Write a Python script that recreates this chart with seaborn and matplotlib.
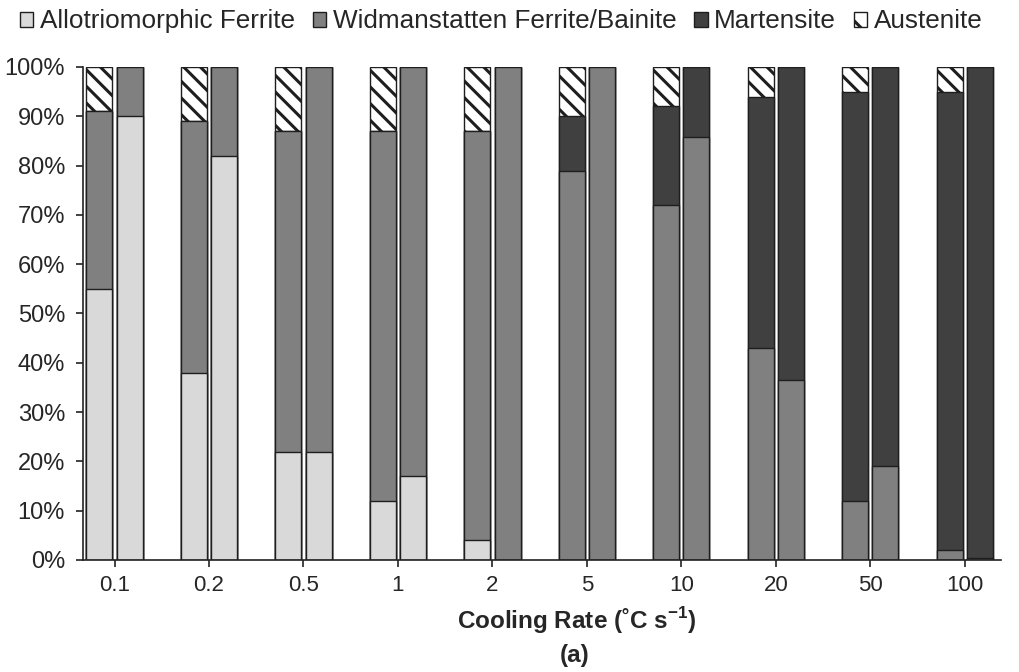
import numpy as np
import pandas as pd
import matplotlib
matplotlib.use("Agg")
import matplotlib.pyplot as plt
import seaborn as sns
from matplotlib.patches import Patch

# ---------------- data ----------------
rates = ["0.1", "0.2", "0.5", "1", "2", "5", "10", "20", "50", "100"]
bars = ["Measured", "Predicted"]
phases = ["Allotriomorphic Ferrite", "Widmanstatten Ferrite/Bainite", "Martensite", "Austenite"]

# left bar of each pair
af_left = [55, 38, 22, 12, 4, 0, 0, 0, 0, 0]
wf_left = [36, 51, 65, 75, 83, 79, 72, 43, 12, 2]
m_left = [0, 0, 0, 0, 0, 11, 20, 51, 83, 93]
a_left = [9, 11, 13, 13, 13, 10, 8, 6, 5, 5]

# right bar of each pair
af_right = [90, 82, 22, 17, 0, 0, 0, 0, 0, 0]
wf_right = [10, 18, 78, 83, 100, 100, 85.7, 36.5, 19, 0.5]
m_right = [0, 0, 0, 0, 0, 0, 14.3, 63.5, 81, 99.5]
a_right = [0, 0, 0, 0, 0, 0, 0, 0, 0, 0]

colors = ["#d9d9d9", "#808080", "#404040", "#ffffff"]
y_ticks = [0, 10, 20, 30, 40, 50, 60, 70, 80, 90, 100]

# ---------------- style ----------------
sns.set_theme(style="white")
plt.rcParams["font.family"] = ["Liberation Sans", "DejaVu Sans"]
plt.rcParams["mathtext.fontset"] = "custom"
plt.rcParams["mathtext.rm"] = "Liberation Sans"
plt.rcParams["mathtext.bf"] = "Liberation Sans:bold"
plt.rcParams["hatch.linewidth"] = 2.2

# ---------------- long table with cumulative tops ----------------
rows = []
left_vals = [af_left, wf_left, m_left, a_left]
right_vals = [af_right, wf_right, m_right, a_right]
for i, r in enumerate(rates):
    for b, vals in zip(bars, [left_vals, right_vals]):
        cum = 0.0
        for p, v in zip(phases, vals):
            cum += v[i]
            rows.append({"rate": r, "bar": b, "phase": p, "value": v[i], "cum": cum})
df = pd.DataFrame(rows)

fig = plt.figure(figsize=(10.19, 6.72), dpi=100)
ax = fig.add_axes([0.0815, 0.1667, 0.9005, 0.7336])

edge = "#1e1e1e"
for p, c in reversed(list(zip(phases, colors))):
    sub = df[df["phase"] == p]
    kw = {}
    if p == "Austenite":
        kw["hatch"] = "\\\\"
    sns.barplot(data=sub, x="rate", y="cum", hue="bar", order=rates, hue_order=bars,
                palette=[c, c], width=0.64, gap=0.14, edgecolor=edge, linewidth=1.0,
                legend=False, ax=ax, saturation=1, errorbar=None, **kw)

ax.set_xlim(-0.333, 9.38)
ax.set_ylim(0, 100)
ax.set_yticks(y_ticks)
ax.set_yticklabels([f"{t}%" for t in y_ticks])
ax.set_xlabel("")
ax.set_ylabel("")
for s in ["top", "right"]:
    ax.spines[s].set_visible(False)
for s in ["left", "bottom"]:
    ax.spines[s].set_color("#222222")
    ax.spines[s].set_linewidth(1.2)
ax.tick_params(axis="y", direction="out", length=5, width=1.2, color="#222222",
               labelsize=17, pad=8, left=True)
ax.tick_params(axis="x", direction="out", length=5, width=1.2, color="#222222",
               labelsize=16, pad=6, bottom=True)

handles = [Patch(facecolor=c, edgecolor=edge, linewidth=1.0,
                 hatch=("\\" if p == "Austenite" else None), label=p)
           for p, c in zip(phases, colors)]
fig.legend(handles=handles, loc="upper center", bbox_to_anchor=(0.492, 1.021), ncol=4,
           frameon=False, fontsize=18.8, handlelength=0.5, handleheight=0.5,
           handletextpad=0.25, columnspacing=0.7)

fig.text(0.566, 0.077, r"Cooling Rate (˚C s$^{\mathbf{-1}}$)", ha="center", va="center",
         fontsize=17.5, fontweight="bold")
fig.text(0.564, 0.025, "(a)", ha="center", va="center", fontsize=17.5, fontweight="bold")

fig.savefig("out.png", dpi=100)
